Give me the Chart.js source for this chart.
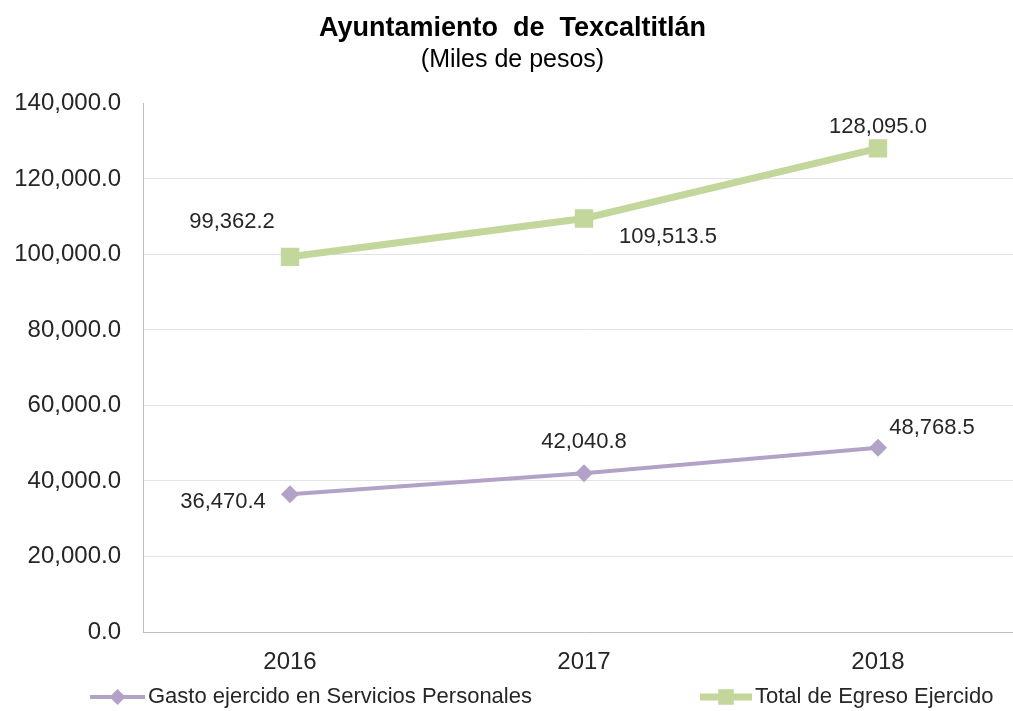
<!DOCTYPE html>
<html>
<head>
<meta charset="utf-8">
<script src="https://cdn.jsdelivr.net/npm/chart.js@4/dist/chart.umd.min.js"></script>
<style>
  html, body { margin: 0; padding: 0; background: #ffffff; overflow: hidden; }
  canvas { display: block; }
</style>
</head>
<body>
<canvas id="chart" width="1044" height="711"></canvas>
<script>
// ---- Data ----
const categories = ['2016', '2017', '2018'];
const gastoServiciosPersonales = [36470.4, 42040.8, 48768.5];
const totalEgresoEjercido = [99362.2, 109513.5, 128095.0];
const seriesNames = ['Gasto ejercido en Servicios Personales', 'Total de Egreso Ejercido'];
const yTickValues = [0, 20000, 40000, 60000, 80000, 100000, 120000, 140000];
const titleText = 'Ayuntamiento  de  Texcaltitlán';
const subtitleText = '(Miles de pesos)';

// ---- Styles ----
const PURPLE = '#b3a2c7';
const GREEN = '#c3d69b';
const FONT = "'Liberation Sans', Arial, sans-serif";
const TEXT = '#262626';

const fmt = v => v.toLocaleString('en-US', { minimumFractionDigits: 1, maximumFractionDigits: 1 });

// label offsets (dx, dy) from each point, per dataset
const labelOffsets = [
  [[-67, 8], [0, -31], [54, -20]],
  [[-58, -35], [84, 18], [0, -21]]
];

const dataLabelPlugin = {
  id: 'dataLabels',
  afterDatasetsDraw(chart) {
    const ctx = chart.ctx;
    ctx.save();
    ctx.font = `22px ${FONT}`;
    ctx.fillStyle = TEXT;
    ctx.textAlign = 'center';
    ctx.textBaseline = 'middle';
    chart.data.datasets.forEach((ds, di) => {
      const meta = chart.getDatasetMeta(di);
      meta.data.forEach((pt, i) => {
        const off = labelOffsets[di][i];
        ctx.fillText(fmt(ds.data[i]), pt.x + off[0], pt.y + off[1]);
      });
    });
    ctx.restore();
  }
};

const legendPlugin = {
  id: 'customLegend',
  afterDraw(chart) {
    const ctx = chart.ctx;
    const y = 697;
    const items = [
      { x0: 90, x1: 145, color: PURPLE, lw: 4, style: 'rectRot', r: 8, tx: 148, text: seriesNames[0] },
      { x0: 700, x1: 752, color: GREEN, lw: 7, style: 'rect', r: 11, tx: 755, text: seriesNames[1] }
    ];
    ctx.save();
    items.forEach(it => {
      ctx.strokeStyle = it.color;
      ctx.fillStyle = it.color;
      ctx.lineWidth = it.lw;
      ctx.beginPath();
      ctx.moveTo(it.x0, y);
      ctx.lineTo(it.x1, y);
      ctx.stroke();
      Chart.helpers.drawPoint(ctx, { pointStyle: it.style, radius: it.r, borderWidth: 0 }, (it.x0 + it.x1) / 2, y);
      ctx.fillStyle = TEXT;
      ctx.font = `22px ${FONT}`;
      ctx.textAlign = 'left';
      ctx.textBaseline = 'middle';
      ctx.fillText(it.text, it.tx, y);
    });
    ctx.restore();
  }
};

new Chart(document.getElementById('chart'), {
  type: 'line',
  data: {
    labels: categories,
    datasets: [
      {
        label: seriesNames[0],
        data: gastoServiciosPersonales,
        borderColor: PURPLE,
        backgroundColor: PURPLE,
        borderWidth: 4,
        pointStyle: 'rectRot',
        pointRadius: 9,
        pointBorderWidth: 0,
        tension: 0
      },
      {
        label: seriesNames[1],
        data: totalEgresoEjercido,
        borderColor: GREEN,
        backgroundColor: GREEN,
        borderWidth: 7,
        pointStyle: 'rect',
        pointRadius: 13,
        pointBorderWidth: 0,
        tension: 0
      }
    ]
  },
  options: {
    responsive: false,
    animation: false,
    layout: { padding: { left: 0, right: 19, top: 0, bottom: 28 } },
    plugins: {
      legend: { display: false },
      tooltip: { enabled: false },
      title: {
        display: true,
        text: titleText,
        color: '#000000',
        font: { family: FONT, size: 27, weight: 'bold', lineHeight: 1.2 },
        padding: { top: 12, bottom: 0 }
      },
      subtitle: {
        display: true,
        text: subtitleText,
        color: '#000000',
        font: { family: FONT, size: 25, lineHeight: 1.2 },
        padding: { top: 1, bottom: 28 }
      }
    },
    scales: {
      x: {
        type: 'category',
        offset: true,
        grid: { display: false, drawTicks: false },
        border: { display: true, color: '#bfbfbf', width: 1 },
        ticks: { color: TEXT, font: { family: FONT, size: 24 }, padding: 16 },
        afterFit(scale) { scale.height = 51; }
      },
      y: {
        min: 0,
        max: 140000,
        afterBuildTicks(scale) { scale.ticks = yTickValues.map(v => ({ value: v })); },
        grid: {
          drawTicks: false,
          color: ctx => (ctx.tick && ctx.tick.value === 140000) ? 'rgba(0,0,0,0)' : '#e3e3e3',
          lineWidth: 1
        },
        border: { display: true, color: '#bfbfbf', width: 1 },
        ticks: {
          color: TEXT,
          font: { family: FONT, size: 24 },
          padding: 22,
          callback: v => fmt(v)
        },
        afterFit(scale) { scale.width = 143; }
      }
    }
  },
  plugins: [dataLabelPlugin, legendPlugin]
});
</script>
</body>
</html>
